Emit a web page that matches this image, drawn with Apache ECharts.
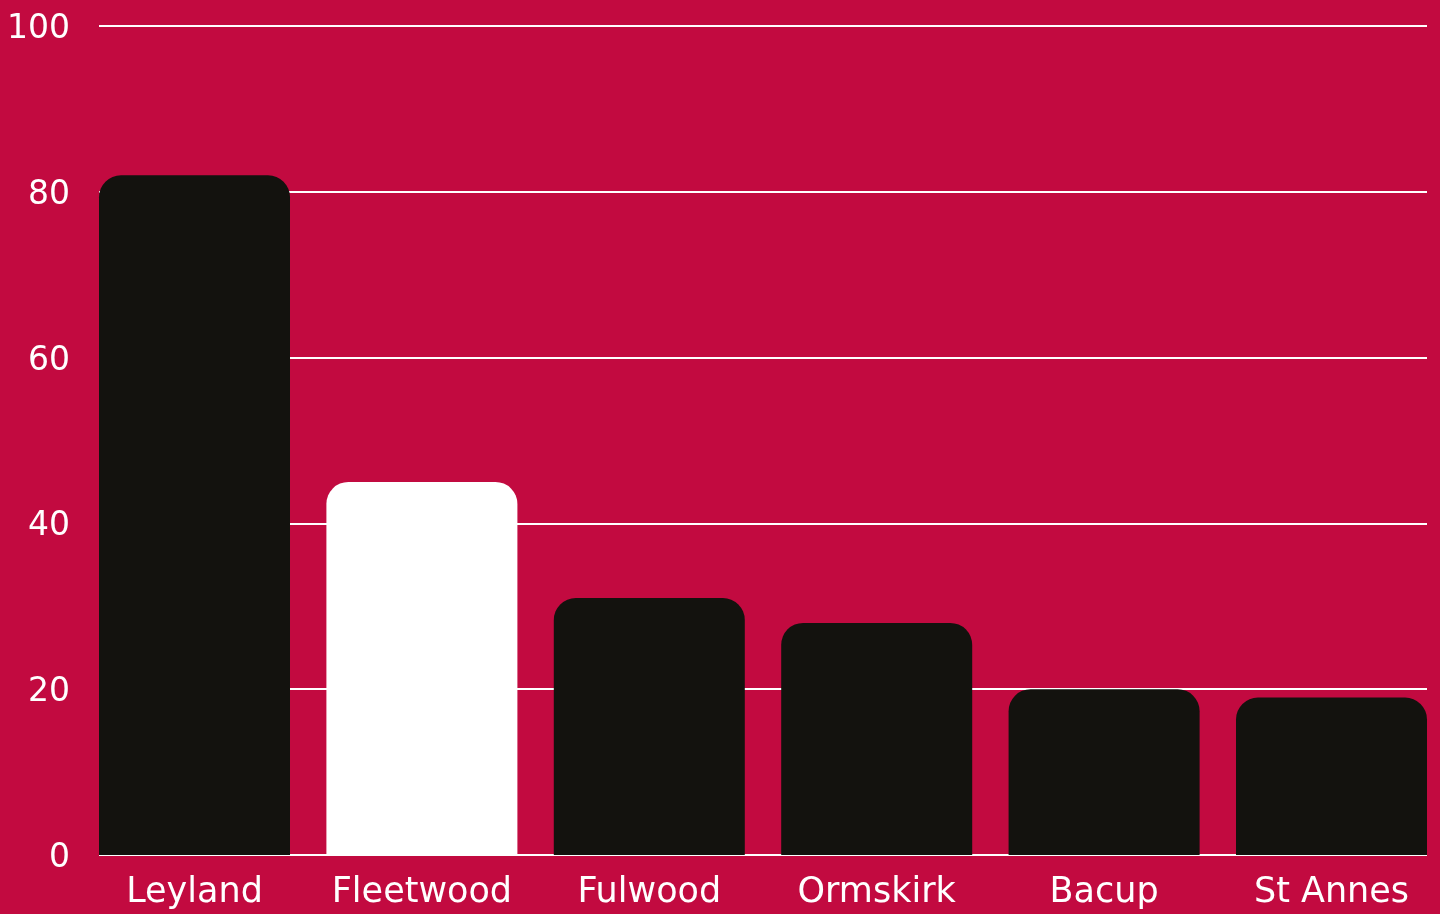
<!DOCTYPE html>
<html>
<head>
<meta charset="utf-8">
<style>
  html, body { margin: 0; padding: 0; background: #C20A40; }
  #chart { width: 1440px; height: 914px; }
</style>
<script src="https://cdn.jsdelivr.net/npm/echarts@6/dist/echarts.min.js"></script>
</head>
<body>
<div id="chart"></div>
<script>
// Towns and their values
const towns = ['Leyland', 'Fleetwood', 'Fulwood', 'Ormskirk', 'Bacup', 'St Annes'];
const values = [82, 45, 31, 28, 20, 19];
const highlightTown = 'Fleetwood';
const yTicks = [0, 20, 40, 60, 80, 100];

const BG = '#C20A40';
const DARK = '#13120E';
const FONT = '"DejaVu Sans", sans-serif';

const chart = echarts.init(document.getElementById('chart'), null, { renderer: 'canvas' });

chart.setOption({
  backgroundColor: BG,
  animation: false,
  grid: [
    // full-width grid carrying the value axis and its gridlines
    { left: 99, right: 13, top: 26, bottom: 59 },
    // inner grid whose first/last category sit on the bar centres
    { left: 194.5, right: 108.5, top: 26, bottom: 59 }
  ],
  xAxis: [
    { gridIndex: 0, type: 'category', data: towns, show: false },
    {
      gridIndex: 1,
      type: 'category',
      data: towns,
      boundaryGap: false,
      axisLine: { show: false },
      axisTick: { show: false },
      axisLabel: {
        color: '#ffffff',
        fontFamily: FONT,
        fontSize: 35,
        fontWeight: 'normal',
        margin: 20,
        interval: 0
      }
    }
  ],
  yAxis: [
    {
      gridIndex: 0,
      type: 'value',
      min: yTicks[0],
      max: yTicks[yTicks.length - 1],
      interval: 20,
      axisLine: { show: false },
      axisTick: { show: false },
      axisLabel: {
        margin: 29,
        formatter: '{t|{value}}',
        rich: {
          t: {
            color: '#ffffff',
            fontFamily: FONT,
            fontSize: 33,
            fontWeight: 'normal',
            padding: [7, 0, 0, 0]
          }
        }
      },
      splitLine: { lineStyle: { color: '#ffffff', width: 2 } }
    },
    {
      gridIndex: 1,
      type: 'value',
      min: yTicks[0],
      max: yTicks[yTicks.length - 1],
      show: false
    }
  ],
  series: [
    {
      type: 'bar',
      xAxisIndex: 1,
      yAxisIndex: 1,
      clip: false,
      barWidth: 191,
      data: values.map((v, i) => ({
        value: v,
        itemStyle: { color: towns[i] === highlightTown ? '#ffffff' : DARK }
      })),
      itemStyle: { borderRadius: [22, 22, 0, 0] }
    }
  ]
});
</script>
</body>
</html>
